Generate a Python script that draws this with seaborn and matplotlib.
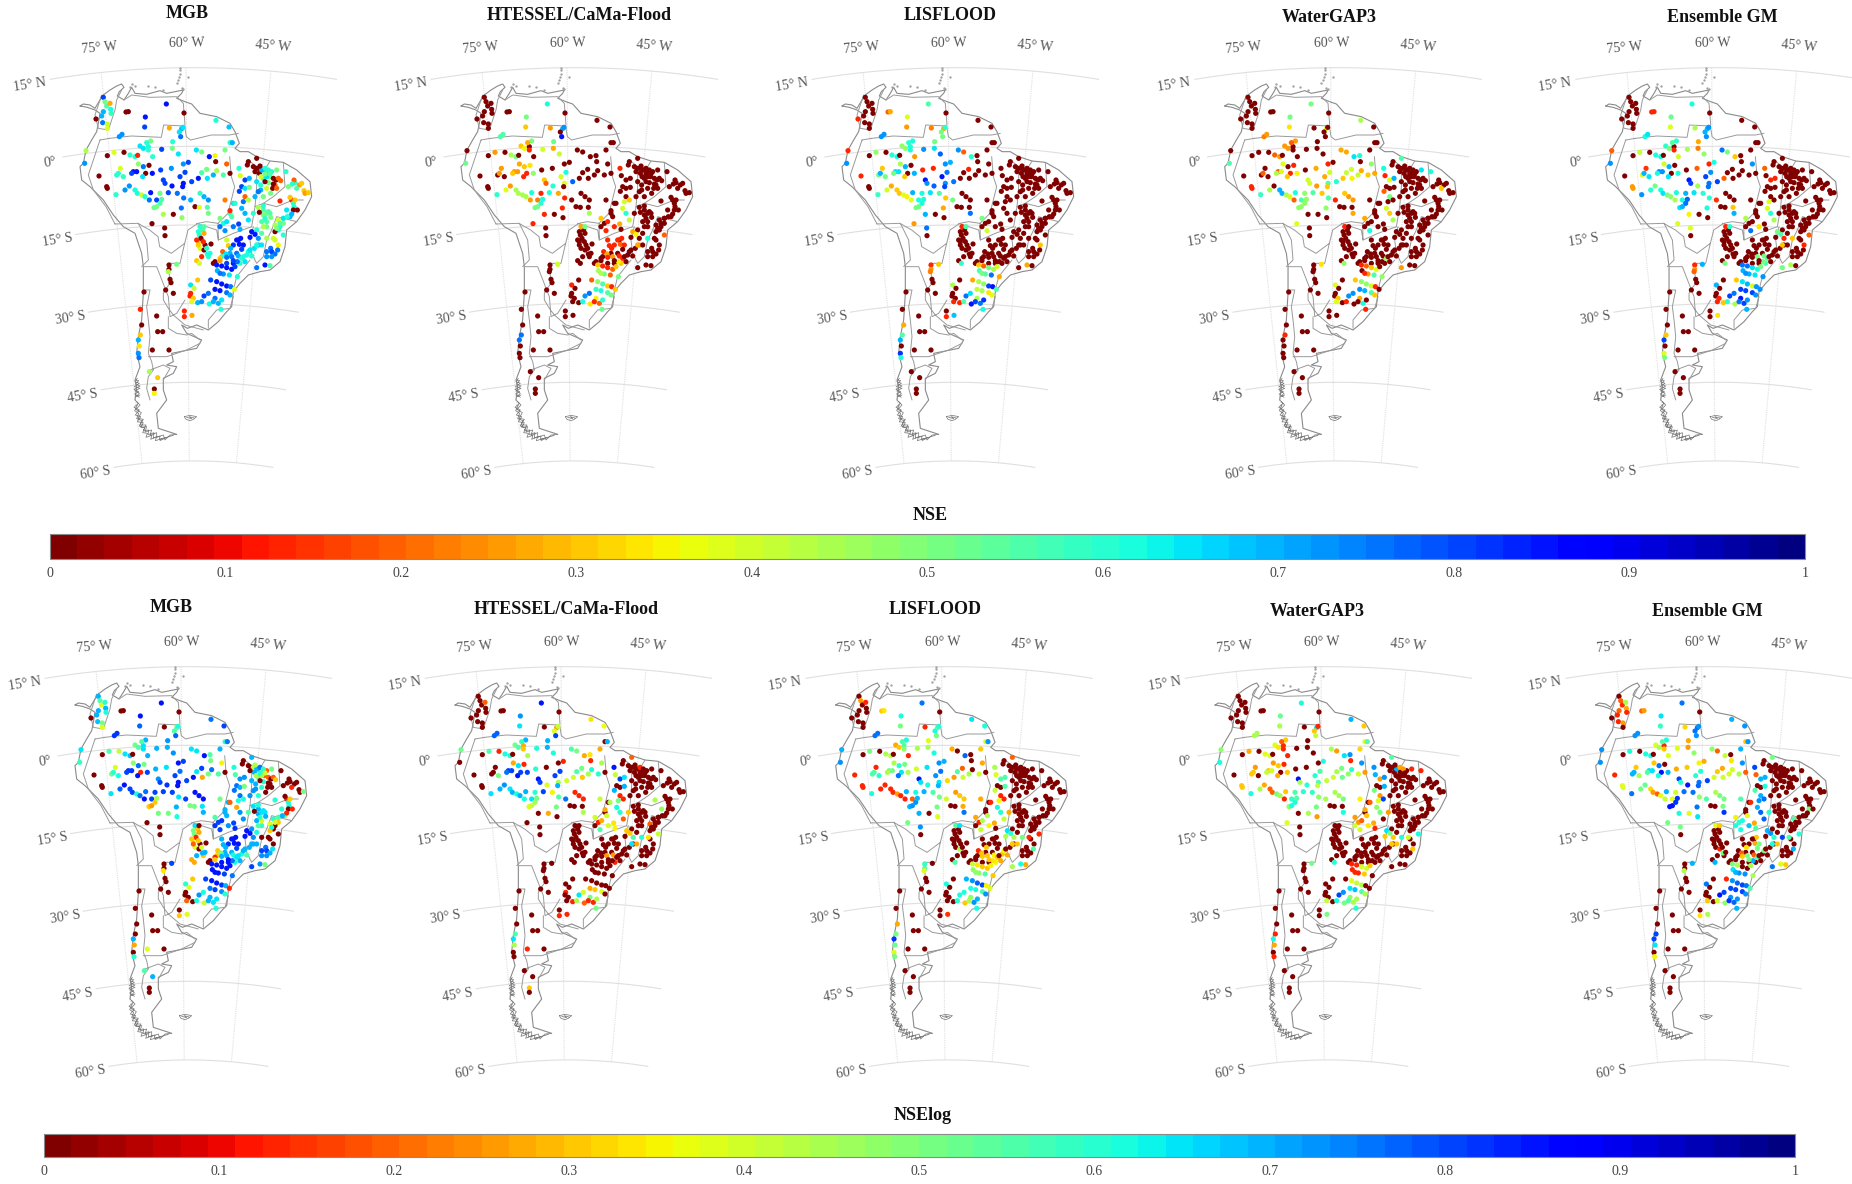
import numpy as np
import matplotlib
matplotlib.use("Agg")
import matplotlib.pyplot as plt
import seaborn as sns
from matplotlib.cm import ScalarMappable
from matplotlib.colors import Normalize

# station positions in map grid units (1 unit = 1/3 px), y pointing down
station_x = [
    768,778,790,800,808,815,790,805,825,770,782,812,885,898,912,790,785,800,785,770,810,875,882,870,850,835,825,812,598,608,595,605,625,615,665,690,710,700,680,715,700,690,725,735,
    310,315,320,330,332,333,310,305,288,308,322,322,
    378,385,499,552,436,434,508,545,549,538,542,648,687,690,697,358,366,
    258,254,322,297,320,322,342,372,348,
    361,350,370,355,375,388,
    390,405,413,420,430,445,452,440,445,458,
    485,518,517,535,589,605,628,645,647,675,680,690,
    400,410,395,415,430,447,437,428,457,482,
    514,550,565,555,540,550,548,
    490,495,516,575,595,620,605,622,640,650,670,
    405,412,425,435,452,448,470,
    480,505,532,551,572,600,612,625,
    462,470,480,485,
    490,520,546,544,585,598,622,625,660,456,494,495,
    675,690,695,670,680,660,675,700,716,720,705,718,735,730,725,735,745,717,721,735,748,745,748,
    770,745,742,760,775,765,785,795,805,830,858,783,795,800,820,828,835,782,800,818,830,775,765,790,882,877,905,865,890,915,925,870,880,
    775,790,800,778,800,790,840,880,860,875,850,835,825,840,850,825,820,800,835,833,815,800,800,825,795,810,770,775,763,
    600,612,595,612,603,590,600,612,622,633,590,598,
    593,572,582,572,570,580,575,593,
    507,507,505,530,510,513,497,520,
    432,421,470,553,553,576,425,473,488,421,415,418,415,417,457,507,448,473,463,463,
    755,765,750,775,785,722,718,700,730,725,685,692,668,678,660,645,640,695,715,740,755,745,770,720,
    650,665,680,695,705,712,725,652,670,688,712,
    632,650,665,680,692,645,660,680,703,690,
    625,612,605,628,645,655,665,663,640,
    790,805,812,795,850,862,840,830,885,892,610,595,620,630,660,680,700,735,750,810,820,780,795,842,760,710,680,730,815,660,
]
station_y = [
    505,520,510,520,530,515,535,548,555,545,570,580,548,555,572,645,665,680,700,690,640,600,620,650,670,690,720,745,705,690,725,770,770,735,770,760,760,790,790,720,610,640,560,565,
    292,305,318,310,328,340,335,348,357,368,372,385,
    336,335,312,339,351,381,384,386,382,396,410,361,381,428,428,410,403,
    452,490,467,528,560,565,457,457,584,
    505,525,530,520,570,558,
    465,470,466,438,445,440,423,428,450,470,
    448,425,445,462,450,456,470,467,485,450,492,520,
    515,515,520,492,500,496,520,530,520,510,
    505,492,487,517,530,550,560,
    540,550,558,545,535,508,518,535,525,512,525,
    570,580,585,590,578,600,600,
    580,578,580,594,600,580,590,600,
    623,620,610,598,
    643,643,653,624,620,622,622,640,655,671,684,707,
    600,632,650,670,665,680,692,680,672,688,610,574,590,605,625,640,660,505,527,540,535,600,562,
    475,485,495,500,505,515,510,505,510,510,515,530,545,530,535,540,535,555,565,565,565,575,590,590,540,552,550,560,565,580,578,592,610,
    622,630,640,637,665,680,603,630,630,642,655,660,695,680,705,675,715,715,735,750,755,755,770,762,795,797,803,735,745,
    680,680,695,700,715,720,745,750,762,732,782,790,
    840,855,865,880,888,895,905,908,
    795,808,815,793,838,848,870,880,
    876,928,948,933,950,946,975,995,995,1005,1020,1038,1060,1073,1050,1050,1115,1133,1167,1180,
    695,703,712,715,735,715,733,735,735,748,737,745,755,762,775,785,790,770,768,765,768,755,735,790,
    795,798,803,808,800,785,775,812,822,825,830,
    840,845,852,858,860,868,872,878,868,885,
    880,888,905,912,895,910,900,928,905,
    618,635,652,655,655,650,670,685,600,630,725,735,745,760,782,772,782,785,750,522,552,498,522,542,640,720,720,770,770,820,
]

nse_mgb = [
    0,0,.7,.65,.5,.6,.6,.5,.2,.65,.7,.5,.6,.25,.3,.5,.55,.5,.55,.6,.55,.13,.6,.7,.5,.6,.4,.75,.6,.55,.3,.13,.6,0,.6,.7,.75,.85,.8,.85,.65,.6,.8,.65,
    .8,.5,.55,.27,.62,.58,.7,.7,0,.75,.42,.38,
    0,0,.85,0,.85,.8,.27,.7,.65,.65,.75,.62,.68,.6,.7,.73,.73,
    .45,.72,0,0,0,0,.38,0,.6,
    .38,.6,.58,.6,.72,.72,
    .6,.6,.13,.65,.65,.62,.5,.6,.6,.6,
    .8,.6,.5,.65,.65,.5,.85,.35,0,.5,.2,0,
    .85,.85,.8,.47,.75,0,0,.65,.85,.8,
    .72,.72,.8,.8,.8,.85,.85,
    .8,.8,.85,.8,.85,.5,.55,.65,.7,.45,.55,
    .62,.62,.4,.6,.85,.75,.8,
    .5,.8,.75,.75,.7,.58,.7,.72,
    .52,.5,.55,.55,
    .45,0,.47,.75,0,.38,.55,.5,.5,0,0,0,
    .22,.13,.55,.62,.65,.75,.72,.75,.8,.7,.6,.8,.2,.75,.7,.7,.65,.6,.38,.8,.7,.45,.5,
    0,0,0,0,0,0,.7,.6,.6,.5,.6,.4,0,.65,0,0,.2,.6,.4,0,.2,.75,.7,.5,.2,.6,.3,.5,.55,.25,.3,.3,.6,
    .45,.55,.5,0,.55,.45,.13,0,.65,.7,.45,.4,0,.6,.6,.45,.4,.45,.35,.75,.8,.75,.72,.75,.85,.55,.75,.7,.65,
    .6,.55,.6,.27,0,.13,.38,0,.62,0,.3,.4,
    .3,.65,.42,.13,.13,.3,.38,.7,
    0,0,.45,.5,0,0,0,0,
    0,.13,0,.13,.13,.27,0,0,0,.3,.7,.33,.72,.75,0,0,.45,.3,0,.35,
    .85,.85,.85,.72,.65,.85,.85,.82,.85,.8,.3,.7,.2,.65,.3,0,0,.75,.7,.62,.6,.62,.62,.6,
    .85,.85,.85,.85,.8,.75,.6,.7,.72,.65,.6,
    .8,.85,.85,.85,.75,.85,.85,.75,.38,.7,
    .75,.8,.72,.62,.75,.7,.65,.6,.7,
    .6,.55,.5,.6,.65,.6,.55,.5,.3,0,.13,.3,.6,.62,.25,.75,.8,.65,.65,.55,0,0,.5,.2,.6,.85,.4,.62,.72,.75,
]
nse_htessel = [
    0,0,0,0,0,0,0,0,0,0,0,0,0,0,0,0,0,0,0,0,0,0,0,0,0,0,0,0,0,0,0,0,0,0,0,0,0,0,0,0,0,0,0,0,
    0,0,0,0,0,0,0,0,0,0,0,0,
    0,0,.62,0,.5,.3,.25,.7,.72,0,.85,0,0,0,0,.55,.55,
    0,.52,0,0,0,0,.25,0,.6,
    .25,0,0,.25,.38,.25,
    .45,.5,0,.3,.35,0,.5,.27,.13,0,
    .4,.52,.27,.42,0,0,0,0,0,0,0,0,
    .25,.25,.3,.27,.3,.33,.13,.13,.47,0,
    0,0,0,.62,.4,.38,0,
    .3,.2,.6,.78,0,0,0,0,0,0,0,
    .45,.45,.45,.45,.62,.25,.22,
    .13,.6,.28,.13,0,0,0,0,
    .5,.5,.6,.62,
    .13,0,0,.13,0,0,0,.45,.3,.13,0,0,
    0,0,0,0,.13,0,.13,.13,.27,0,0,0,0,.4,.4,.6,.42,.13,0,0,0,.3,0,
    0,0,0,0,0,0,0,0,0,0,0,
    0,0,0,0,0,0,0,0,0,0,0,
    0,0,0,0,0,0,0,0,0,0,0,
    0,0,0,0,0,0,0,0,0,0,0,0,0,0,.2,0,0,.6,0,0,0,0,0,0,0,0,0,.25,0,
    .27,.5,0,0,0,0,0,0,0,0,0,0,
    0,.13,0,0,0,0,0,0,
    0,0,0,.4,0,0,0,0,
    0,0,0,0,0,0,0,0,0,.75,.75,0,0,0,0,0,0,0,0,0,
    .28,.35,0,0,0,.13,.2,.13,.13,0,.13,.13,.13,.27,0,0,0,.25,.13,0,0,0,.27,.3,
    .3,.13,.13,.2,.3,.35,.13,.45,.5,.2,.5,
    .2,.47,.55,.3,.13,.58,.62,.55,.3,.5,
    .75,.72,.62,.33,.35,.2,.6,.52,.13,
    0,0,0,0,0,0,0,0,0,0,0,0,0,0,0,.13,0,0,0,0,0,0,0,0,0,.13,.13,0,0,.45,
]
nse_lisflood = [
    0,0,0,0,0,0,0,0,0,0,0,0,0,0,0,0,0,0,0,0,0,0,0,0,0,0,0,0,0,0,0,0,0,0,0,0,0,0,0,0,0,0,0,0,
    0,0,0,0,0,0,0,0,.13,0,0,0,
    .2,.27,.55,0,.38,.25,.22,.28,.6,.5,.5,0,0,0,0,.72,.72,
    .13,.72,0,.13,0,0,.48,0,.58,
    .3,.5,.5,.7,.4,.27,
    .6,.62,0,.48,.48,.62,.62,.6,.62,.25,
    .72,.5,.65,.78,.72,.2,.6,0,0,0,0,0,
    .65,.65,.5,.45,.7,0,0,.3,.7,.13,
    .13,.72,.7,.75,.85,.72,.8,
    .85,.72,.78,.75,0,.13,0,0,0,0,0,
    .3,.3,.38,.35,.7,.38,.62,
    .62,.65,.55,.3,.5,0,0,0,
    .5,.5,.62,.62,
    .7,0,0,.27,0,0,0,.75,.5,.25,.75,0,
    0,0,0,0,0,0,.4,0,0,0,0,0,0,0,0,0,0,0,0,0,0,0,0,
    0,0,0,0,0,0,0,0,0,0,0,
    0,0,0,0,0,0,0,0,0,0,0,
    0,0,0,0,0,0,0,0,0,0,0,
    0,0,0,0,0,0,0,0,0,0,0,0,0,0,0,0,0,0,.3,0,0,0,0,0,.27,0,0,0,0,
    .13,.55,0,0,0,0,0,0,0,0,0,.6,
    0,.45,0,0,0,0,.13,.13,
    .13,.25,.22,.3,0,0,0,0,
    0,0,0,0,.13,.68,.27,0,0,.55,.7,0,.82,.62,0,0,0,0,0,0,
    0,0,0,0,0,0,0,0,0,0,0,0,0,0,0,0,0,0,0,0,0,0,0,0,
    .3,.2,.5,.45,.4,0,0,.55,.55,.75,.27,
    .28,.45,.48,.8,.85,.42,.45,.33,.55,.38,
    .65,.75,.55,.85,.45,.75,.82,.62,.8,
    0,0,0,0,0,0,0,0,0,0,0,0,0,0,0,0,0,0,0,0,0,0,0,0,0,0,0,0,0,.5,
]
nse_watergap = [
    0,0,0,0,0,0,0,0,0,0,0,0,0,0,0,0,0,0,0,0,0,0,0,0,0,0,0,0,0,0,0,0,0,0,0,0,0,0,0,0,0,0,0,0,
    0,0,0,0,0,0,0,0,0,0,0,0,
    0,0,.5,0,.5,.33,0,.38,0,0,0,.45,0,0,0,.22,.25,
    0,.55,0,0,.13,.13,0,0,.58,
    0,0,0,.2,.45,0,
    .2,.25,0,.25,.25,0,.25,.2,0,0,
    0,0,0,0,.27,.27,.65,.62,0,0,.47,.27,
    .2,.38,.45,.38,0,.13,.13,.3,.35,0,
    .27,.13,0,.4,.27,.55,.3,
    .4,.4,.25,.6,.3,.4,.42,.35,.42,.27,.3,
    .7,.7,.45,.4,.62,.2,.55,
    .47,.55,.3,.55,.13,.3,.25,.25,
    .47,.47,.47,.47,
    0,0,0,.47,0,0,0,.27,.27,.38,0,0,
    0,0,0,0,0,0,.62,0,0,0,0,.2,.5,0,.4,.3,.45,.62,.13,.38,.7,0,0,
    .55,0,0,0,0,0,0,0,0,.65,.62,
    0,0,0,0,0,0,0,0,0,0,0,
    0,0,0,0,0,0,.3,0,0,0,0,
    0,0,0,0,0,0,0,0,0,0,0,0,0,0,0,0,0,0,0,0,0,0,0,0,0,0,.25,0,0,
    .13,0,0,0,0,0,0,0,0,0,0,.47,
    0,.38,0,0,0,.3,.38,0,
    0,0,0,.33,0,0,0,0,
    0,0,0,0,0,0,0,0,0,.13,0,0,0,0,0,0,0,0,0,0,
    0,0,0,0,0,0,0,0,0,0,0,0,0,0,0,0,0,0,0,0,0,0,0,0,
    .13,.2,.3,.38,0,0,.47,0,.25,.55,.47,
    .3,.47,.47,.4,.13,.72,.7,.55,0,.3,
    .72,.72,.13,0,.27,.62,0,.13,0,
    0,0,0,0,0,0,0,0,0,0,0,0,0,0,0,0,0,0,0,0,0,0,0,0,0,0,0,0,0,.13,
]
nse_ensemble = [
    0,0,0,0,0,0,0,0,0,0,0,0,0,0,0,0,0,0,0,0,0,0,0,0,0,0,0,0,0,0,0,0,0,0,0,0,0,0,0,0,0,0,0,0,
    0,0,0,0,0,0,0,0,0,0,0,0,
    .13,.13,.62,0,.52,.38,.45,.7,.72,.7,.72,0,0,0,0,.62,.65,
    .2,.72,0,0,.25,.25,.42,0,.72,
    .15,.38,.65,.7,.6,.5,
    .62,.62,0,.6,.5,0,.6,.55,.13,.4,
    .45,.27,.22,.48,.75,.5,.3,0,0,0,.72,0,
    .72,.72,.62,.4,.7,0,0,.65,.62,0,
    .2,.13,.62,.72,.8,.75,.75,
    .85,.8,.45,.8,.2,0,0,0,0,0,0,
    .62,.65,.5,.48,.62,.45,.62,
    .7,.65,.6,.6,.15,0,0,0,
    .65,.7,.75,.78,
    .35,0,0,.62,0,0,.3,.7,.45,.38,.38,0,
    0,0,0,0,0,0,.75,.33,0,0,0,0,0,.38,.38,.6,.45,.2,0,.13,.13,0,0,
    0,0,0,0,0,0,0,0,0,0,0,
    0,0,0,0,0,0,0,0,0,0,0,
    0,0,0,0,0,0,0,0,0,0,0,
    0,0,0,0,0,0,0,0,0,0,0,0,0,0,.2,0,0,.3,.13,0,0,0,0,0,.45,0,.5,0,0,
    .13,.6,0,0,0,0,0,0,0,0,0,.5,
    0,.7,0,0,0,.13,.13,.3,
    .13,.25,.2,.7,0,0,0,0,
    0,0,0,0,0,.33,0,0,0,.3,.8,0,.38,.5,0,0,0,0,0,0,
    .5,.55,0,.13,0,0,0,0,0,0,0,0,0,0,0,0,0,.5,.5,0,0,0,.3,.55,
    .75,.75,.65,.62,.5,.5,.55,.7,.7,.65,.72,
    .3,.65,.7,.38,.72,.8,.8,.8,.72,.72,
    .75,.8,.6,.45,.85,.8,.72,.7,.75,
    0,0,0,0,0,0,0,0,0,0,0,0,0,0,0,0,0,0,0,0,0,0,0,0,0,0,0,0,0,.72,
]
nselog_mgb = [
    0,.7,.7,.5,.2,.2,.5,.6,0,.7,.72,0,0,0,0,.7,.7,.6,.62,.72,.65,.13,.62,.5,.3,0,0,.75,.5,.3,.38,.7,.3,0,.3,.7,.7,.85,.85,.85,.7,.7,.75,.7,
    .7,.55,.38,.6,.7,.62,.7,.7,0,.68,.5,.38,
    0,0,.85,0,.85,.78,0,.5,.62,.55,.78,.75,.8,.6,.75,.82,.82,
    .65,.58,0,0,0,0,.55,.42,.65,
    .38,.5,.62,.6,.78,.85,
    .65,.68,0,.5,.55,.65,.7,.55,.65,.7,
    .7,.72,.7,.72,.65,.65,.85,.55,.5,.7,.35,0,
    .82,.82,.8,.47,.75,.5,.13,.85,.8,.7,
    .65,.85,.8,.75,.8,.85,.85,
    .72,.8,.82,.8,.85,.8,.65,.28,.5,.75,.55,
    .8,.8,.62,.75,.75,.85,.8,
    .8,.8,.8,.65,.8,.85,.85,.85,
    .3,.25,.3,.45,
    .5,.5,.62,.7,.5,.5,.65,.7,.55,0,0,0,
    .5,.7,.7,.8,.82,.82,.8,.72,.8,.82,.2,.75,.75,.62,.27,.72,.72,.62,.55,.72,.72,.62,.5,
    .7,0,0,0,.42,0,.7,.75,.6,.5,0,.45,0,.45,.2,0,.2,.7,.6,0,0,.72,.72,.6,0,0,0,0,.13,0,.5,0,.62,
    .65,.7,.65,0,.4,.55,.6,0,.6,.13,.5,.6,.3,0,0,.38,0,0,0,.65,.8,.8,.72,.7,.72,.5,.8,.7,.7,
    .65,0,.5,.27,.13,.3,.38,0,.7,0,.27,.27,
    .3,.6,.38,0,0,0,.2,0,
    0,0,.33,.8,0,0,0,0,
    0,0,0,0,.3,.38,0,0,0,0,.7,.27,0,.6,.38,0,.55,.7,0,0,
    .85,.85,.85,.72,.7,.85,.85,.82,.85,.8,.7,.7,.3,.5,.13,0,0,.7,.62,.62,.55,.7,.7,.62,
    .85,.85,.85,.85,.85,.75,.65,.85,.85,.8,.75,
    .8,.85,.85,.82,.7,.75,.8,.72,.13,.6,
    .62,.72,.62,.42,.7,.65,.65,.6,.7,
    .62,.65,.7,.6,.55,.7,.4,.62,.3,.13,.3,.2,.4,.7,.3,.7,.85,.7,.7,.4,0,.45,.6,.3,.55,.85,.7,.65,.72,.85,
]
nselog_htessel = [
    0,0,0,0,0,0,0,0,0,0,0,0,0,0,0,0,0,0,0,0,0,0,0,0,0,0,0,0,0,0,0,0,0,0,0,0,0,0,0,0,0,0,0,0,
    0,0,0,.2,0,0,0,0,0,0,0,0,
    0,0,.85,0,.72,.65,0,.25,.42,.38,.8,.33,.36,0,.7,.78,.78,
    .52,0,0,0,0,0,.55,.13,.65,
    0,0,.5,0,.7,.72,
    .62,.62,0,.5,.55,.27,.7,.58,.3,.45,
    .62,.7,.7,.62,.55,.5,.28,.33,.13,.27,.45,0,
    .8,.8,.75,.27,.65,.13,.8,.85,.8,.6,
    0,0,.13,.8,.8,.45,.7,
    .85,.8,.38,.4,.4,.5,.55,.3,.45,.62,.6,
    .65,.7,.62,.7,.7,.62,.65,
    .6,.8,.35,.55,.75,.13,.13,.13,
    .38,.42,.45,.5,
    0,.28,0,.5,0,0,0,.45,.4,0,0,0,
    .42,.27,.4,.13,.28,0,.55,.4,.33,.35,.45,.7,.13,.5,.62,.6,.2,.85,.42,.8,.65,.13,.7,
    .2,0,0,0,0,0,0,.13,0,0,0,
    0,0,0,0,0,0,0,0,0,0,0,
    0,0,0,0,0,0,0,0,0,0,0,
    0,0,0,0,0,0,.45,0,.47,0,0,0,0,0,.42,.2,.33,.6,0,0,0,0,0,0,0,0,0,0,0,
    0,0,0,0,0,0,0,0,0,0,0,0,
    0,0,0,.13,0,0,0,.13,
    0,0,0,0,0,0,0,0,
    0,0,0,0,.13,.13,0,0,0,.55,.65,.45,0,0,.13,0,0,0,.3,0,
    .3,.3,0,.55,.27,0,0,0,0,0,0,0,0,0,0,0,0,.25,.25,0,0,0,.65,.13,
    0,0,0,0,0,0,0,0,0,0,0,
    0,0,0,0,0,.27,.3,.38,0,0,
    .4,.65,.45,.2,.5,.13,.45,.5,.13,
    0,0,0,0,0,0,0,0,0,0,0,0,0,0,0,0,0,0,0,0,0,0,0,0,.3,0,0,0,0,0,
]
nselog_lisflood = [
    0,0,0,0,0,0,0,0,0,0,0,0,0,0,0,0,0,0,0,0,0,0,0,0,0,0,0,0,0,0,0,0,0,0,0,0,0,0,0,0,0,0,0,0,
    0,.25,0,.13,0,0,0,0,0,0,0,0,
    .3,.33,.75,0,.62,.5,.13,.5,.62,.62,.5,.65,.62,.38,.72,.75,.75,
    .7,.72,0,.13,.13,.13,.5,0,.62,
    .13,.55,.6,.55,.13,.13,
    .45,.42,0,.27,.3,.55,.62,.55,.48,.13,
    .45,.38,.45,.62,.27,0,.78,0,0,.3,.27,0,
    .5,.5,.45,.45,.6,.5,.65,.75,.45,.4,
    .65,.72,.7,.75,.72,.65,.7,
    .85,.65,.62,.32,.25,.2,.55,.4,.45,0,.4,
    .13,.13,.25,.13,.7,.13,.2,
    .62,.7,.55,.5,.4,.25,.3,.3,
    .7,.72,.72,.7,
    .7,0,.38,.5,0,0,.27,.75,.27,.5,.72,0,
    .28,0,.45,.13,.45,0,.42,.35,.27,0,.13,.42,.13,.35,.62,.6,.42,.45,.38,.55,.55,.13,.55,
    .2,0,0,0,0,0,0,0,0,0,0,
    0,0,0,0,0,0,0,0,0,0,0,
    0,0,0,0,0,0,0,0,0,0,0,
    0,0,0,0,0,0,0,0,0,0,0,0,0,0,.13,0,.13,.5,0,.55,0,0,0,0,.62,.27,.45,0,0,
    .55,.65,0,0,0,0,0,.45,0,0,0,.55,
    0,.62,0,0,0,0,0,0,
    .58,.55,.38,0,0,0,0,0,
    0,0,0,0,0,.15,.27,0,0,.5,.82,.52,.38,.5,0,0,0,0,0,0,
    .65,.6,.45,.45,.3,0,0,0,0,0,0,.3,.13,.3,0,0,0,.3,.35,.3,.27,.35,.3,.35,
    .42,.33,.3,.3,.35,.33,.3,.48,.48,.55,.3,
    .7,.72,.78,.8,.35,.62,.62,.55,.38,.72,
    .62,.62,.6,.3,.48,.72,.7,.62,.45,
    0,0,0,0,0,0,0,0,0,0,0,0,0,0,0,.3,.3,.27,0,0,0,0,0,0,.27,0,0,0,0,.48,
]
nselog_watergap = [
    0,0,0,0,0,0,0,0,0,0,0,0,0,0,0,0,0,0,0,0,0,0,0,0,0,0,0,0,0,0,0,0,0,0,0,0,0,0,0,0,0,0,0,0,
    0,0,0,0,0,0,0,0,0,0,0,0,
    0,0,.62,0,.52,.45,0,.65,.13,.3,.42,.7,.3,.38,.55,.45,.45,
    .47,.62,0,0,.3,.3,.28,0,.62,
    .25,.3,0,.3,.45,.28,
    .38,.38,0,.38,.33,.13,.3,.2,.13,.13,
    0,0,0,0,.45,.25,.65,.72,.13,.32,.72,.25,
    .3,.4,.42,.25,.3,.13,0,.28,.3,0,
    0,0,.62,.55,.6,.55,.42,
    .85,.45,.6,.42,.4,.5,.45,.52,.47,.6,.4,
    .2,.2,.5,.45,.3,.13,.58,
    .55,.6,.58,.48,.45,.45,.45,.5,
    .47,.62,.62,.55,
    0,.45,.25,.5,0,0,0,.62,.25,.38,0,0,
    .35,.27,.3,.25,.2,.4,.4,.33,.27,.13,.2,.5,.25,.38,.48,.5,0,.72,.7,.25,.72,.8,.7,
    .55,0,0,0,0,0,.7,.27,.25,.13,.13,
    0,0,0,0,0,0,0,0,0,0,0,
    0,0,0,0,0,0,0,0,0,0,0,
    0,0,0,0,0,0,0,0,0,0,.2,0,0,0,.62,0,.4,.6,0,.3,0,0,0,0,0,0,0,0,0,
    0,0,0,0,0,0,0,0,0,0,0,.6,
    0,0,0,0,0,0,.42,0,
    0,0,0,.5,0,0,0,0,
    0,0,0,0,0,.5,0,0,0,.13,.62,.28,0,.13,0,0,0,0,0,0,
    .65,.5,.3,.3,.3,0,0,0,0,0,0,0,0,0,0,0,0,0,0,0,0,0,.3,0,
    .13,.13,.4,.4,.3,0,0,.13,.13,.3,0,
    0,.38,.42,.45,0,.65,.68,.55,0,.45,
    .72,.8,.62,.5,.47,.45,.45,.6,.55,
    0,0,0,0,0,0,0,0,0,0,0,0,0,0,0,0,0,0,0,0,0,0,0,0,.25,0,0,0,0,.13,
]
nselog_ensemble = [
    0,0,0,0,0,0,0,0,0,0,0,0,0,0,0,0,0,0,0,0,0,0,0,0,0,0,0,0,0,0,0,0,0,0,0,0,0,0,0,0,0,0,0,0,
    0,.2,.13,.45,.28,.13,.2,.13,0,.13,.25,0,
    .2,.25,.75,0,.65,.58,.32,.75,.72,.75,.72,.7,.72,.3,.72,.72,.72,
    .72,.72,0,.13,.38,.38,.62,0,.75,
    .3,.7,.45,.7,.5,.52,
    .62,.62,0,.38,.45,.13,.62,.55,.3,.38,
    .38,.27,.25,.47,.47,.2,.42,0,.33,.7,.72,.2,
    .65,.65,.55,.3,.75,0,.85,.62,.7,.27,
    .3,.35,.27,.6,.6,.75,.78,
    .8,.6,.85,.8,.4,.27,.3,.4,.4,.4,.45,
    .32,.25,.2,.38,.7,.42,.38,
    .4,.75,.75,.48,.55,.45,.5,.5,
    .85,.85,.82,.82,
    .62,.38,.65,.75,0,0,.5,.82,.35,.5,.5,0,
    .55,0,.38,.6,.62,.62,.62,.68,.28,.55,.13,.55,.7,.72,.7,.78,.78,.8,.2,.7,.7,.75,.62,
    .5,0,0,0,0,0,0,0,0,0,0,
    0,0,0,0,0,0,0,0,0,0,0,
    0,0,0,0,0,0,0,0,0,0,0,
    0,0,0,0,0,0,0,.5,0,0,.3,.55,0,0,.6,0,.55,.8,0,.7,0,0,0,0,.38,.3,.75,0,0,
    .38,.3,0,0,0,0,0,.13,.5,0,0,.7,
    0,.75,0,0,0,0,.3,0,
    0,0,.45,.7,0,0,0,0,
    0,0,0,0,.33,.45,0,0,0,.8,.8,.65,0,.35,0,0,0,0,0,0,
    .7,.72,0,.6,.3,.3,.28,0,.5,.5,0,.33,0,.2,0,0,0,.5,.2,0,0,.5,.62,0,
    .5,.45,0,0,.45,.7,.55,.65,.72,.72,.45,
    .13,.72,.78,.8,.75,.8,.8,.8,.55,.72,
    .8,.85,.4,.48,.72,.78,.72,.7,.82,
    0,0,0,0,0,0,0,0,0,0,0,0,0,0,0,.3,.5,0,0,0,0,0,0,0,.6,0,0,0,0,.7,
]

model_names = ["MGB", "HTESSEL/CaMa-Flood", "LISFLOOD", "WaterGAP3", "Ensemble GM"]
nse_series = [nse_mgb, nse_htessel, nse_lisflood, nse_watergap, nse_ensemble]
nselog_series = [nselog_mgb, nselog_htessel, nselog_lisflood, nselog_watergap, nselog_ensemble]

coast_x = [240,250,270,285,300,310,330,350,365,372,358,352,372,385,395,405,440,480,500,550,545,530,555,575,600,625,650,690,705,718,705,720,745,770,810,850,890,930,935,915,890,860,855,840,810,780,745,720,700,695,680,655,625,590,562,545,560,605,590,540,515,520,500,530,520,490,490,500,470,475,530,
           None,405,410,405,420,410,415,425,430,430,425,405,370,340,310,270,245,240,250,258,275,290,295,300,285,262,240]
coast_y = [318,312,315,325,300,285,270,258,252,262,275,288,300,280,262,280,283,272,280,270,280,295,305,312,340,345,350,370,395,430,445,455,455,470,483,487,510,545,590,630,665,690,740,785,810,815,825,850,875,920,935,965,990,975,985,975,1000,1020,1045,1055,1060,1085,1095,1100,1120,1135,1170,1200,1240,1285,1303,
           None,1200,1160,1140,1100,1060,1010,960,880,800,760,700,680,645,600,560,540,500,490,450,420,395,370,340,330,322,318]
basin_x = [305,285,295,325,345,350,365,None,
           329,394,484,491,554,559,572,634,689,715,None,
           372,395,450,530,550,555,None,
           300,329,None,
           689,694,704,684,654,619,594,564,554,514,479,474,449,414,345,None,
           300,280,265,280,318,345,None,
           745,770,770,765,755,700,655,654,None,
           810,800,None,
           850,855,820,790,765,None,
           790,830,880,910,None,
           890,830,815,800,790,770,755,750,760,None,
           590,650,655,None,
           750,710,700,None,
           625,625,650,690,700,None,
           554,540,505,510,495,490,490,505,520,555,610,None,
           425,445,440,415,None,
           430,470,505,510,530,555,None,
           432,450,440,445,450,445,455,460,445,440,450,None,
           505,505,530,560,575,600,None,
           445,500,560,600,None,
           450,490,510,490]
basin_y = [285,345,385,390,330,300,270,None,
           415,408,412,375,378,410,420,405,405,400,None,
           300,285,292,290,310,375,None,
           420,415,None,
           470,530,560,640,670,665,670,690,730,760,740,710,690,670,672,None,
           420,480,525,570,620,672,None,
           480,500,560,620,680,700,720,670,None,
           483,500,None,
           488,560,590,610,620,None,
           610,620,600,600,None,
           665,650,690,720,770,790,760,720,680,None,
           670,690,720,None,
           780,830,870,None,
           985,960,930,925,890,None,
           730,790,790,850,870,880,900,925,945,975,990,None,
           800,780,720,670,None,
           800,800,890,950,940,900,None,
           870,870,920,960,1010,1060,1085,1110,1130,1165,1200,None,
           950,985,1000,1005,1000,1020,None,
           1070,1070,1050,1030,None,
           1110,1095,1105,1140]
fjord_x = [412,405,418,403,420,405,418,408,420,None,408,416,406,420,402,416,404,418,None,
           405,415,402,418,406,422,412,430,422,440,435,455,450,470,470,490,495,510,530,None,
           410,420,408,424,414,430,420,438,430,446,444,462,460,480,478,500,None,
           412,404,416,410,426,418,434,428,442,438,456,452,470,466,486,None,
           480,500,520,None,553,570,590,580,570,558,553,None,560,575,568,582]
fjord_y = [1135,1145,1150,1160,1165,1172,1180,1190,1185,None,1140,1142,1152,1158,1168,1175,1182,1192,None,
           1200,1210,1222,1230,1245,1250,1265,1268,1282,1280,1296,1290,1306,1298,1312,1305,1320,1305,1303,None,
           1205,1215,1228,1238,1255,1258,1275,1275,1292,1290,1304,1298,1314,1308,1318,1312,None,
           1215,1232,1240,1256,1262,1278,1284,1298,1300,1312,1306,1318,1310,1322,1316,None,
           1322,1312,1306,None,1250,1246,1250,1258,1262,1258,1250,None,1252,1256,1250,1254]
island_x = [395,405,445,465,490,535,540,541,565,537,530,545,550,540,390]
island_y = [252,258,258,262,270,240,222,210,230,232,250,265,268,205,260]

# conic graticule fitted to the map
cone_n = 0.367
apex_x, apex_y = 580, 2858
lon_mid = -58.7
lon_left, lon_right = -84.1, -33.3
parallels = [15, 0, -15, -30, -45, -60]
meridians = [-75, -60, -45]


def project(lat, lon):
    r = 2419 + 15.73 * np.asarray(lat, dtype=float)
    t = np.radians(cone_n * (np.asarray(lon, dtype=float) - lon_mid))
    return apex_x + r * np.sin(t), apex_y - r * np.cos(t)


sns.set_style("white")
plt.rcParams["font.family"] = ["Liberation Serif", "DejaVu Serif"]

fig_w, fig_h = 1852, 1184
fig = plt.figure(figsize=(fig_w / 100, fig_h / 100), dpi=100)
cmap = plt.get_cmap("jet_r", 64)


def draw_map(left, top, values):
    ax = fig.add_axes([left / fig_w, 1 - (top + 490) / fig_h, 380 / fig_w, 490 / fig_h])
    ax.set_xlim(0, 1140)
    ax.set_ylim(1470, 0)
    ax.axis("off")
    ax.patch.set_alpha(0)

    for lat in parallels:
        xs, ys = project(lat, np.linspace(lon_left, lon_right, 60))
        ax.plot(xs, ys, color="#dfdfdf", lw=0.8, zorder=1)
        lx, ly = project(lat, lon_left)
        dx = {15: -62, 0: -38}.get(lat, -54)
        if lat == 0:
            label = "0°"
        else:
            label = f"{abs(lat)}° {'N' if lat > 0 else 'S'}"
        ax.text(lx + dx, ly + 18, label, ha="center", va="center", rotation=9,
                fontsize=10, color="#555555")
    for lon, dx, rot in zip(meridians, [-6, 2, 7], [5, 1, -5]):
        xs, ys = project(np.linspace(15, -60, 40), lon)
        ax.plot(xs, ys, color="#dfdfdf", lw=0.8, ls=(0, (1, 1)), zorder=1)
        ax.text(xs[0] + dx, ys[0] - 74, f"{abs(lon)}° W", ha="center", va="center",
                rotation=rot, fontsize=10, color="#555555")

    ax.plot(np.array(coast_x, dtype=float), np.array(coast_y, dtype=float), color="#8a8a8a", lw=0.8, zorder=2)
    ax.plot(np.array(basin_x, dtype=float), np.array(basin_y, dtype=float), color="#9a9a9a", lw=0.7, zorder=2)
    ax.plot(np.array(fjord_x, dtype=float), np.array(fjord_y, dtype=float), color="#7e7e7e", lw=0.55, zorder=2)
    ax.plot(island_x, island_y, ls="", marker="o", ms=0.7, color="#a0a0a0", zorder=2)

    assert len(values) == len(station_x), len(values)
    sns.scatterplot(x=station_x, y=station_y, hue=values, hue_norm=(0, 1), palette=cmap,
                    s=14, linewidth=0, legend=False, ax=ax, zorder=3)
    ax.axis("off")


def draw_bar(left, top, width, height, title, title_x, title_y):
    cax = fig.add_axes([left / fig_w, 1 - (top + height) / fig_h, width / fig_w, height / fig_h])
    cb = fig.colorbar(ScalarMappable(norm=Normalize(0, 1), cmap=cmap), cax=cax, orientation="horizontal")
    cb.set_ticks(np.arange(0, 1.01, 0.1))
    cb.set_ticklabels(["0", "0.1", "0.2", "0.3", "0.4", "0.5", "0.6", "0.7", "0.8", "0.9", "1"])
    cb.ax.tick_params(axis="x", direction="in", length=11, width=0.7, color="#444444",
                      labelsize=10, labelcolor="#444444", pad=6)
    cb.outline.set_edgecolor("#8a8a8a")
    cb.outline.set_linewidth(0.8)
    fig.text(title_x / fig_w, 1 - title_y / fig_h, title, ha="center", va="center",
             fontsize=13, fontweight="bold", color="#111111")


# pixel layout of the two rows of panels
top_left = [0, 381, 762, 1144.7, 1525.7]
bottom_left = [-5, 375, 755.7, 1135, 1515.7]
top_title_x = [187, 579, 950, 1329, 1722]
top_title_y = [14, 16, 15.5, 18, 17]
bottom_title_x = [171, 566, 935, 1317, 1707]
bottom_title_y = [607, 609.5, 609.5, 611, 611]

for i, name in enumerate(model_names):
    draw_map(top_left[i], 0, nse_series[i])
    fig.text(top_title_x[i] / fig_w, 1 - top_title_y[i] / fig_h, name, ha="center", va="center",
             fontsize=13, fontweight="bold", color="#111111")
    draw_map(bottom_left[i], 599, nselog_series[i])
    fig.text(bottom_title_x[i] / fig_w, 1 - bottom_title_y[i] / fig_h, name, ha="center", va="center",
             fontsize=13, fontweight="bold", color="#111111")

draw_bar(49.6, 534, 1755.4, 24.5, "NSE", 930, 515)
draw_bar(43.7, 1134, 1751.3, 22.5, "NSElog", 923, 1115)

fig.savefig("out.png", dpi=100, facecolor="white")
